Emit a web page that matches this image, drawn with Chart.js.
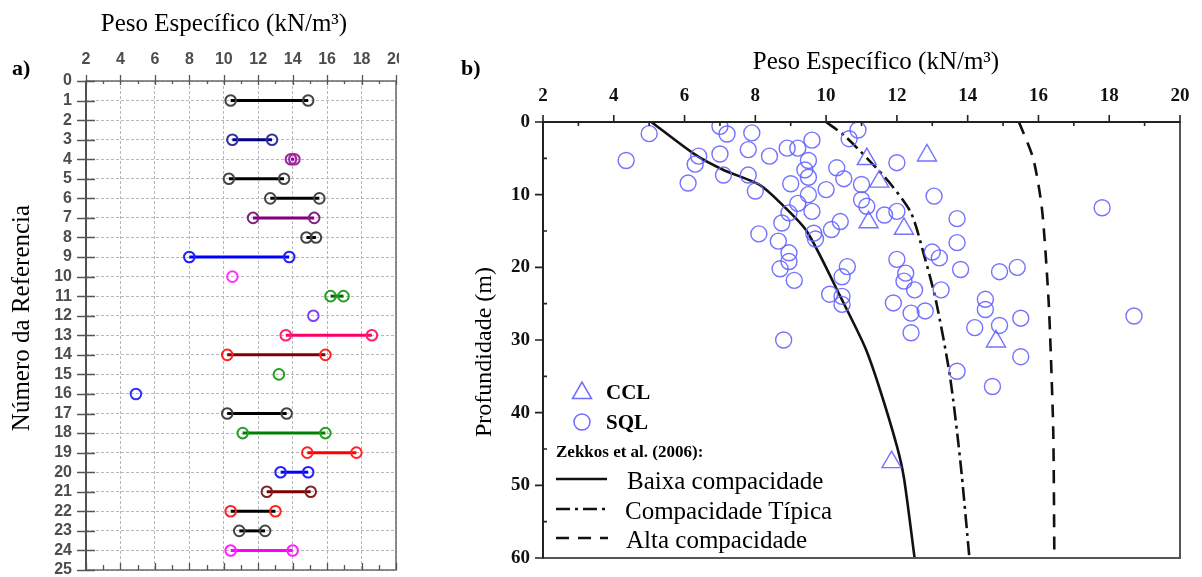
<!DOCTYPE html>
<html><head><meta charset="utf-8">
<script src="https://cdn.jsdelivr.net/npm/chart.js@4.4.1/dist/chart.umd.min.js"></script>
<style>
html,body{margin:0;padding:0;background:#fff;}
body{width:1202px;height:577px;position:relative;overflow:hidden;font-family:"Liberation Serif","Times New Roman",serif;color:#000;}
.t{position:absolute;white-space:nowrap;line-height:1;}
#wrapA{position:absolute;left:0;top:0;width:399px;height:577px;overflow:hidden;}
#cA{position:absolute;left:0;top:0;}
#wrapB{position:absolute;left:440px;top:0;width:762px;height:577px;overflow:hidden;}
#cB{position:absolute;left:0;top:0;}
</style></head><body>
<div id="wrapA"><canvas id="cA" width="420" height="600"></canvas></div>
<div id="wrapB"><canvas id="cB" width="762" height="600"></canvas></div>

<div class="t" style="left:224px;top:22px;font-size:25px;transform:translate(-50%,-50%);">Peso Específico (kN/m³)</div>
<div class="t" style="left:12px;top:68px;font-size:22px;font-weight:bold;transform:translate(0,-50%);">a)</div>
<div class="t" style="left:20px;top:318px;font-size:25px;transform:translate(-50%,-50%) rotate(-90deg);">Número da Referencia</div>

<div class="t" style="left:876px;top:60px;font-size:25px;transform:translate(-50%,-50%);">Peso Específico (kN/m³)</div>
<div class="t" style="left:461px;top:68px;font-size:22px;font-weight:bold;transform:translate(0,-50%);">b)</div>
<div class="t" style="left:483px;top:352px;font-size:24px;transform:translate(-50%,-50%) rotate(-90deg);">Profundidade (m)</div>

<div class="t" style="left:606px;top:392px;font-size:21px;font-weight:bold;transform:translate(0,-50%);">CCL</div>
<div class="t" style="left:606px;top:422px;font-size:21px;font-weight:bold;transform:translate(0,-50%);">SQL</div>
<div class="t" style="left:556px;top:451px;font-size:17px;font-weight:bold;transform:translate(0,-50%);">Zekkos et al. (2006):</div>
<div class="t" style="left:627px;top:480px;font-size:25px;transform:translate(0,-50%);">Baixa compacidade</div>
<div class="t" style="left:625px;top:510px;font-size:25px;transform:translate(0,-50%);">Compacidade Típica</div>
<div class="t" style="left:626px;top:539px;font-size:25px;transform:translate(0,-50%);">Alta compacidade</div>

<script>
// ---------- Panel a data ----------
const refNumbers = [1,3,4,5,6,7,8,9,10,11,12,13,14,15,16,17,18,19,20,21,22,23,24];
const refMin = [10.4,10.5,13.9,10.3,12.7,11.7,14.8,8.0,10.5,16.2,15.2,13.6,10.2,13.2,4.9,10.2,11.1,14.85,13.3,12.5,10.4,10.9,10.4];
const refMax = [14.9,12.8,14.1,13.5,15.55,15.25,15.35,13.8,null,16.95,null,18.6,15.9,null,null,13.65,15.9,17.7,14.9,15.05,13.0,12.4,14.0];
const xTicksA = [2,4,6,8,10,12,14,16,18,20];
const lineColors = ['#000','#00008b','#a000a0','#000','#000','#800080','#000','#0000ff','#ff00ff','#006400','#8040ff','#ff0066','#800000','#008000','#3030ff','#000','#008000','#ff0000','#0000ff','#800000','#000','#000','#ff00ff'];
const markerColors = ['#444','#3030a0','#a020a0','#444','#444','#802080','#444','#2020ff','#ff30ff','#20a020','#8040ff','#ff2070','#ff2020','#20a020','#3030ff','#444','#20a020','#ff2020','#2020ff','#802020','#ff2020','#444','#ff20ff'];

// ---------- Panel b data ----------
const sqlX = [5.0,4.35,7.0,7.2,7.9,6.4,6.3,7.0,7.8,8.4,6.1,7.1,7.8,8.0,8.1,8.65,8.75,8.7,10.9,10.65,9.6,8.9,9.2,9.5,9.4,9.5,10.3,10.5,9.0,10.0,11.0,12.0,11.0,11.15,9.5,9.2,9.6,8.95,11.65,12.0,10.4,10.15,9.65,9.7,8.95,8.95,9.1,10.6,10.45,12.0,12.25,13.05,13.7,13.7,13.0,13.2,13.8,14.9,15.4,10.1,10.45,10.45,8.8,12.2,12.5,11.9,12.4,12.8,12.4,13.25,14.5,14.5,14.2,14.9,15.5,15.5,13.7,14.7,17.8,18.7];
const sqlDepth = [1.6,5.3,0.6,1.65,1.5,4.7,5.8,4.4,3.8,4.7,8.4,7.3,7.3,9.5,15.4,16.4,13.9,20.2,1.1,2.3,2.5,3.6,3.6,5.3,6.6,7.6,6.3,7.8,8.5,9.3,8.6,5.6,10.7,11.6,10.0,11.2,12.3,12.5,12.8,12.3,13.7,14.8,15.3,16.1,18.0,19.2,21.8,19.9,21.3,18.9,20.8,10.2,13.3,16.6,17.9,18.7,20.3,20.6,20.0,23.7,24.0,25.1,30.0,21.9,23.1,24.9,26.3,26.0,29.0,23.1,24.4,25.8,28.3,28.0,27.0,32.3,34.3,36.4,11.8,26.7];
const cclX = [11.15,11.5,11.2,12.2,12.85,14.8,11.85];
const cclDepth = [5.1,8.2,13.8,14.7,4.6,30.2,46.8];
const baixaX = [5.06,6.3,7.1,8.1,8.7,9.45,10.4,11.1,11.5,12.0,12.2,12.5];
const baixaD = [0,4.5,6.6,8.6,11.1,15,24,31,36.5,44.6,49,60];
const tipicaX = [10,10.5,11.2,11.8,12.4,12.75,13.1,13.5,13.8,14.05];
const tipicaD = [0,1.8,5.2,8.4,12.5,18,24.5,35,47,60];
const altaX = [15.45,15.85,16.1,16.28,16.35,16.42,16.45];
const altaD = [0,5,12,24,32,43,60];

const zip = (xs, ys) => xs.map((v,i)=>({x:v, y:ys[i]}));

// ---------- Panel a ----------
const frameA = {
  id:'frameA',
  afterDraw(chart){
    const {ctx, chartArea:a, scales:{x,y}} = chart;
    ctx.save();
    ctx.strokeStyle='#6a6a6a'; ctx.lineWidth=1.5;
    ctx.strokeRect(a.left, a.top, a.right-a.left, a.bottom-a.top);
    ctx.strokeStyle='#4a4a4a'; ctx.lineWidth=1.8;
    ctx.beginPath(); ctx.moveTo(a.left,a.top); ctx.lineTo(a.left,a.bottom); ctx.stroke();
    ctx.lineWidth=1.3; ctx.strokeStyle='#555';
    ctx.beginPath();
    for(let v=2; v<=20; v++){
      const px = Math.round(x.getPixelForValue(v))+0.5;
      if(v%2===0){ ctx.moveTo(px,a.top-6); ctx.lineTo(px,a.top+4); ctx.moveTo(px,a.bottom); ctx.lineTo(px,a.bottom-7);}
      else { ctx.moveTo(px,a.top); ctx.lineTo(px,a.top+3); ctx.moveTo(px,a.bottom); ctx.lineTo(px,a.bottom-5);}
    }
    for(let v=0; v<=25; v++){
      const py = Math.round(y.getPixelForValue(v))+0.5;
      ctx.moveTo(a.left-9,py); ctx.lineTo(a.left+9,py);
    }
    ctx.stroke();
    ctx.restore();
  }
};

new Chart(document.getElementById('cA'), {
  type:'line',
  data:{datasets: refNumbers.map((r,i)=>({
    data: refMax[i]==null ? [{x:refMin[i],y:r}] : [{x:refMin[i],y:r},{x:refMax[i],y:r}],
    borderColor: lineColors[i], borderWidth:3,
    pointRadius:5.3, pointBorderWidth:2, pointBorderColor: markerColors[i],
    pointBackgroundColor:'rgba(0,0,0,0)', showLine:true, fill:false, tension:0
  }))},
  options:{
    responsive:false, animation:false, devicePixelRatio:1,
    layout:{padding:{left:0,top:0,right:24,bottom:30}},
    plugins:{legend:{display:false}, tooltip:{enabled:false}},
    scales:{
      x:{type:'linear', position:'top', min:2, max:20,
        afterBuildTicks(s){ s.ticks = xTicksA.map(v=>({value:v})); },
        ticks:{color:'#4d4d4d', font:{family:'Liberation Sans', weight:'bold', size:16}, padding:12, maxRotation:0, autoSkip:false},
        grid:{color:'#b8b8b8', lineWidth:1, drawTicks:false},
        border:{display:false, dash:[3,2]},
        afterFit(s){ s.height = 81; }},
      y:{type:'linear', reverse:true, min:0, max:25,
        ticks:{stepSize:1, autoSkip:false, color:'#4d4d4d', font:{family:'Liberation Sans', weight:'bold', size:16}, padding:14},
        grid:{color:'#b8b8b8', lineWidth:1, drawTicks:false},
        border:{display:false, dash:[3,2]},
        afterFit(s){ s.width = 86; }}
    }
  },
  plugins:[frameA]
});

// ---------- Panel b ----------
const DASH_TIP = [14,5,3,5];
const DASH_ALTA = [13,9];
const frameB = {
  id:'frameB',
  afterDraw(chart){
    const {ctx, chartArea:a, scales:{x,y}} = chart;
    ctx.save();
    ctx.lineWidth=2; ctx.strokeStyle='#555';
    ctx.beginPath(); ctx.moveTo(a.right,a.top); ctx.lineTo(a.right,a.bottom); ctx.lineTo(a.left,a.bottom); ctx.stroke();
    ctx.strokeStyle='#222';
    ctx.beginPath(); ctx.moveTo(a.left,a.bottom); ctx.lineTo(a.left,a.top); ctx.lineTo(a.right,a.top); ctx.stroke();
    ctx.lineWidth=1.6;
    ctx.beginPath();
    for(let v=2; v<=20; v++){
      const px = x.getPixelForValue(v);
      if(v%2===0){ ctx.moveTo(px,a.top-7); ctx.lineTo(px,a.top+1);} else { ctx.moveTo(px,a.top); ctx.lineTo(px,a.top+4);}
    }
    for(let v=0; v<=60; v+=5){
      const py = y.getPixelForValue(v);
      if(v%10===0){ ctx.moveTo(a.left-8,py); ctx.lineTo(a.left+1,py);} else { ctx.moveTo(a.left,py); ctx.lineTo(a.left+4,py);}
    }
    ctx.stroke();
    // legend symbols
    const ox = 440;
    ctx.strokeStyle='rgba(100,100,255,0.95)'; ctx.lineWidth=1.5;
    const tx=582-ox, ty=393, r=11;
    ctx.beginPath();
    ctx.moveTo(tx, ty-r); ctx.lineTo(tx+r*0.866, ty+r*0.5); ctx.lineTo(tx-r*0.866, ty+r*0.5); ctx.closePath(); ctx.stroke();
    ctx.beginPath(); ctx.arc(582-ox, 422, 8, 0, Math.PI*2); ctx.stroke();
    ctx.strokeStyle='#111'; ctx.lineWidth=2.6;
    ctx.beginPath(); ctx.moveTo(556-ox,479); ctx.lineTo(607-ox,479); ctx.stroke();
    ctx.setLineDash(DASH_TIP);
    ctx.beginPath(); ctx.moveTo(556-ox,509); ctx.lineTo(608-ox,509); ctx.stroke();
    ctx.setLineDash(DASH_ALTA);
    ctx.beginPath(); ctx.moveTo(556-ox,538); ctx.lineTo(608-ox,538); ctx.stroke();
    ctx.restore();
  }
};

const curve = (xs, ds, dash) => ({
  data: zip(xs, ds), showLine:true, borderColor:'#111', borderWidth:2.6,
  borderDash: dash, pointRadius:0, tension:0.25, fill:false
});

new Chart(document.getElementById('cB'), {
  type:'scatter',
  data:{datasets:[
    {data: zip(sqlX, sqlDepth), pointStyle:'circle', pointRadius:8, pointBorderWidth:1.4,
     pointBorderColor:'rgba(100,100,255,0.9)', pointBackgroundColor:'rgba(0,0,0,0)'},
    {data: zip(cclX, cclDepth), pointStyle:'triangle', pointRadius:11, pointBorderWidth:1.4,
     pointBorderColor:'rgba(100,100,255,0.9)', pointBackgroundColor:'rgba(0,0,0,0)'},
    curve(baixaX, baixaD, []),
    curve(tipicaX, tipicaD, DASH_TIP),
    curve(altaX, altaD, DASH_ALTA)
  ]},
  options:{
    responsive:false, animation:false, devicePixelRatio:1,
    layout:{padding:{left:0,top:0,right:22,bottom:42}},
    plugins:{legend:{display:false}, tooltip:{enabled:false}},
    scales:{
      x:{type:'linear', position:'top', min:2, max:20,
        ticks:{stepSize:2, color:'#111', font:{family:'Liberation Serif', weight:'bold', size:19}, padding:7, maxRotation:0, autoSkip:false},
        grid:{display:false}, border:{display:false},
        afterFit(s){ s.height = 122; }},
      y:{type:'linear', reverse:true, min:0, max:60,
        ticks:{stepSize:10, color:'#111', font:{family:'Liberation Serif', weight:'bold', size:19}, padding:5},
        grid:{display:false}, border:{display:false},
        afterFit(s){ s.width = 103; }}
    }
  },
  plugins:[frameB]
});
</script>
</body></html>
